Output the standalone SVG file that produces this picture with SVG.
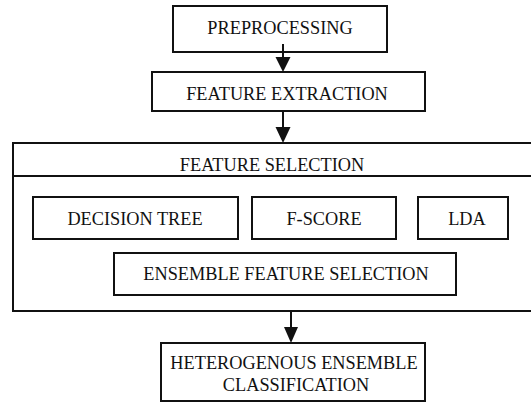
<svg xmlns="http://www.w3.org/2000/svg" width="531" height="403" viewBox="0 0 531 403">
  <style>
    .box { fill: #fff; stroke: #111; stroke-width: 2; }
    .frame { fill: none; stroke: #111; stroke-width: 2; }
    .lbl { font-family: "Liberation Serif", "Times New Roman", serif; font-size: 18.3px; fill: #111; text-anchor: middle; }
    .wire { stroke: #111; stroke-width: 2; fill: none; }
    .head { fill: #111; }
  </style>
  <rect width="531" height="403" fill="#fff"/>

  <g id="preprocessing">
    <rect class="box" x="173" y="6" width="214" height="46"/>
    <text class="lbl" x="280" y="34">PREPROCESSING</text>
  </g>

  <g id="feature-extraction">
    <rect class="box" x="152" y="72" width="273" height="39"/>
    <text class="lbl" x="287" y="100">FEATURE EXTRACTION</text>
  </g>

  <g id="feature-selection">
    <rect class="frame" x="13" y="143" width="530" height="168"/>
    <line class="frame" x1="13" y1="176" x2="531" y2="176"/>
    <text class="lbl" x="272" y="171">FEATURE SELECTION</text>
  </g>

  <g id="decision-tree">
    <rect class="box" x="33" y="197" width="205" height="42"/>
    <text class="lbl" x="135" y="225">DECISION TREE</text>
  </g>

  <g id="f-score">
    <rect class="box" x="252" y="197" width="144" height="42"/>
    <text class="lbl" x="324" y="225">F-SCORE</text>
  </g>

  <g id="lda">
    <rect class="box" x="418" y="197" width="90" height="42"/>
    <text class="lbl" x="467" y="225">LDA</text>
  </g>

  <g id="ensemble-feature-selection">
    <rect class="box" x="114" y="253" width="342" height="42"/>
    <text class="lbl" x="286" y="280">ENSEMBLE FEATURE SELECTION</text>
  </g>

  <g id="heterogenous-ensemble-classification">
    <rect class="box" x="161" y="343" width="264" height="58"/>
    <text class="lbl" x="294" y="369">HETEROGENOUS ENSEMBLE</text>
    <text class="lbl" x="296" y="391">CLASSIFICATION</text>
  </g>

  <g id="connectors">
    <line class="wire" x1="283" y1="44" x2="283" y2="58"/>
    <polygon class="head" points="275.5,57 290.5,57 283,72"/>
    <line class="wire" x1="283" y1="111" x2="283" y2="128"/>
    <polygon class="head" points="275.5,127 290.5,127 283,143"/>
    <line class="wire" x1="291" y1="311" x2="291" y2="328"/>
    <polygon class="head" points="284,327 298,327 291,343"/>
  </g>
</svg>
